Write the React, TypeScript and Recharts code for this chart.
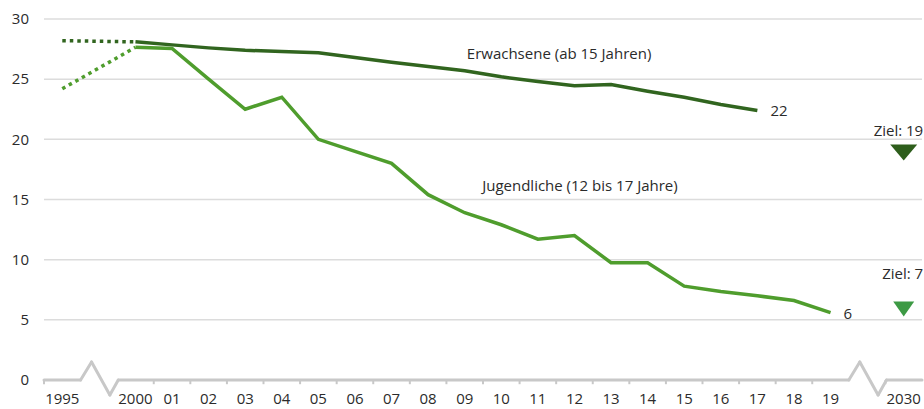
import { LineChart, Line, XAxis, YAxis, CartesianGrid, ReferenceLine, ReferenceDot } from 'recharts'

const categories = ['1995', '', '2000', '01', '02', '03', '04', '05', '06', '07', '08', '09', '10', '11', '12', '13', '14', '15', '16', '17', '18', '19', '', '2030']

// Erwachsene (ab 15 Jahren), 2000–2017
const adults = [28.1, 27.85, 27.6, 27.4, 27.3, 27.2, 26.8, 26.4, 26.05, 25.7, 25.2, 24.8, 24.45, 24.55, 24.0, 23.5, 22.9, 22.4]
// Jugendliche (12 bis 17 Jahre), 2000–2019
const youth = [27.65, 27.55, 25.0, 22.5, 23.5, 20.0, 19.0, 18.0, 15.4, 13.9, 12.9, 11.7, 12.0, 9.75, 9.75, 7.8, 7.35, 7.0, 6.6, 5.6]
const adults1995 = 28.2
const youth1995 = 24.2

const targets = [19, 7]
const targetMarks = [18.9, 5.9]
const yTicks = [0, 5, 10, 15, 20, 25, 30]

const DARK = '#31651f'
const LIGHT = '#4f9d2d'
const FONT = "'Open Sans', sans-serif"
const FS = 15
const TEXT = '#2b2b2b'
const AXIS = '#c8c8c8'

const START = categories.indexOf('2000')
const data = categories.map((label, i) => {
  const k = i - START
  return {
    i,
    label,
    adult: k >= 0 && k < adults.length ? adults[k] : null,
    youth: k >= 0 && k < youth.length ? youth[k] : null,
    adultDot: i === 0 ? adults1995 : k === 0 ? adults[0] : null,
    youthDot: i === 0 ? youth1995 : k === 0 ? youth[0] : null,
  }
})

const labelTicks = categories.flatMap((l, i) => (l ? [i] : []))
const last = categories.length - 1

// axis break zigzags start where the empty categories sit
const gaps = categories.flatMap((l, i) => (l ? [] : [i - 0.5]))
const zig = (s: number) => [[s, 0], [s + 0.3, 1.5], [s + 0.8, -1.25], [s + 1.03, 0]]
const axisSegs: number[][][] = []
let from = -0.5
gaps.forEach((g) => {
  axisSegs.push([[from, 0], [g, 0]])
  const z = zig(g)
  for (let j = 0; j < z.length - 1; j++) axisSegs.push([z[j], z[j + 1]])
  from = g + 1.03
})
axisSegs.push([[from, 0], [last + 0.5, 0]])

const tickMarks = [-0.5]
for (let i = 1; i < categories.length; i++) {
  if (categories[i - 1] && categories[i]) tickMarks.push(i - 0.5)
}
tickMarks.push(gaps[gaps.length - 1] + 1)

const textAt = (text: string, anchor: string, dx = 0) => (p: any) => (
  <text x={p.cx + dx} y={p.cy} textAnchor={anchor} dominantBaseline="central"
    style={{ fontFamily: FONT, fontSize: FS, fill: TEXT }}>{text}</text>
)

const triangle = (color: string, w: number, h: number) => (p: any) => (
  <polygon points={`${p.cx - w / 2},${p.cy - h / 2} ${p.cx + w / 2},${p.cy - h / 2} ${p.cx},${p.cy + h / 2}`} fill={color} />
)

const endLabel = (lastIdx: number) => (p: any) => {
  if (p.index !== lastIdx || p.value == null) return <g key={p.index} />
  return (
    <text key={p.index} x={p.x + 13} y={p.y} dominantBaseline="central"
      style={{ fontFamily: FONT, fontSize: FS, fill: TEXT }}>{Math.round(p.value)}</text>
  )
}

export default function App() {
  return (
    <div style={{ width: 924, height: 409 }}>
      <style>{'body{margin:0}'}</style>
      <LineChart width={924} height={409} data={data} margin={{ top: 19, right: 2, bottom: 0, left: 0 }}>
        <CartesianGrid vertical={false} horizontalValues={yTicks.slice(1)} stroke="#dcdcdc" strokeWidth={1.5} />
        <XAxis type="number" dataKey="i" domain={[-0.5, last + 0.5]} ticks={labelTicks} interval={0}
          tickFormatter={(i: number) => categories[i]} axisLine={false} tickLine={false} height={29} tickMargin={7}
          tick={{ fill: TEXT, fontSize: FS, fontFamily: FONT }} />
        <YAxis domain={[0, 30]} ticks={yTicks} width={44} axisLine={false} tickLine={false} tickMargin={9}
          tick={{ fill: TEXT, fontSize: FS, fontFamily: FONT }} />
        {axisSegs.map((s, k) => (
          <ReferenceLine key={'a' + k} segment={[{ x: s[0][0], y: s[0][1] }, { x: s[1][0], y: s[1][1] }]}
            stroke={AXIS} strokeWidth={3} strokeLinecap="round" ifOverflow="visible" />
        ))}
        {tickMarks.map((t) => (
          <ReferenceLine key={'t' + t} segment={[{ x: t, y: 0 }, { x: t, y: -0.35 }]}
            stroke={AXIS} strokeWidth={2} ifOverflow="visible" />
        ))}
        <Line dataKey="youthDot" stroke={LIGHT} strokeWidth={3.5} strokeDasharray="3.5 4" dot={false} connectNulls isAnimationActive={false} />
        <Line dataKey="adultDot" stroke={DARK} strokeWidth={3.5} strokeDasharray="3.5 4" dot={false} connectNulls isAnimationActive={false} />
        <Line dataKey="youth" stroke={LIGHT} strokeWidth={3.5} dot={false} isAnimationActive={false}
          label={endLabel(START + youth.length - 1)} />
        <Line dataKey="adult" stroke={DARK} strokeWidth={3.5} dot={false} isAnimationActive={false}
          label={endLabel(START + adults.length - 1)} />
        <ReferenceDot x={13.58} y={27.2} r={0} ifOverflow="visible" shape={textAt('Erwachsene (ab 15 Jahren)', 'middle')} />
        <ReferenceDot x={14.15} y={16.2} r={0} ifOverflow="visible" shape={textAt('Jugendliche (12 bis 17 Jahre)', 'middle')} />
        <ReferenceDot x={last} y={targetMarks[0]} r={0} ifOverflow="visible" shape={triangle('#2e5e1c', 27, 16)} />
        <ReferenceDot x={last} y={targetMarks[1]} r={0} ifOverflow="visible" shape={triangle('#3d9a44', 21, 15)} />
        <ReferenceDot x={last} y={20.8} r={0} ifOverflow="visible" shape={textAt(`Ziel: ${targets[0]}`, 'end', 19.5)} />
        <ReferenceDot x={last} y={8.9} r={0} ifOverflow="visible" shape={textAt(`Ziel: ${targets[1]}`, 'end', 19.5)} />
      </LineChart>
    </div>
  )
}
